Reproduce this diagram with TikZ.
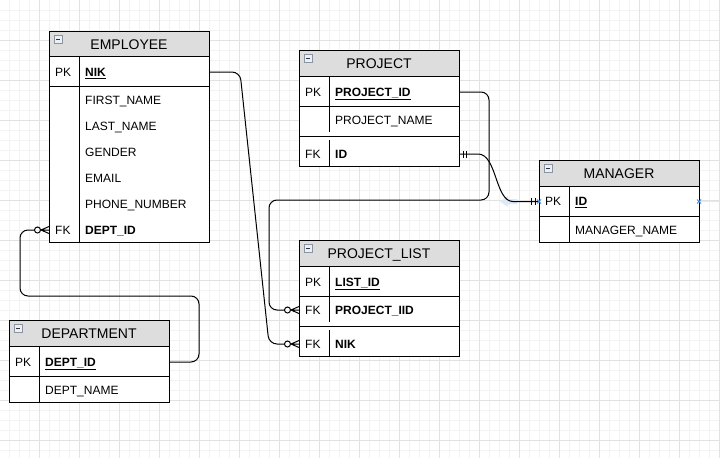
\documentclass[tikz,border=0pt]{standalone}
\usepackage{fontspec}
\setmainfont{Liberation Sans}

\definecolor{headfill}{HTML}{DDDDDD}
\definecolor{minorline}{HTML}{F3F3F3}
\definecolor{majorline}{HTML}{E2E2E2}
\definecolor{hintblue}{HTML}{DCE9F8}
\definecolor{pointblue}{HTML}{3C8DDE}
\definecolor{iconline}{HTML}{8A94A3}
\definecolor{iconfill}{HTML}{EDEFF3}

\tikzset{
  entity/.style={draw, line width=1pt, fill=white},
  header/.style={draw, line width=1pt, fill=headfill},
  rowline/.style={line width=1pt},
  tabletitle/.style={inner sep=0pt, text height=10pt, text depth=0pt, font=\fontsize{14}{16}\selectfont},
  field/.style={anchor=west, text width=118pt, inner xsep=6pt, inner ysep=0pt, text height=8.6pt, text depth=0pt, align=left, font=\fontsize{12}{14}\selectfont},
  keyfield/.style={field, font=\fontsize{12}{14}\selectfont\bfseries},
  keylabel/.style={anchor=west, inner xsep=6pt, inner ysep=0pt, text height=8.6pt, text depth=0pt, font=\fontsize{12}{14}\selectfont},
  link/.style={line width=1pt, rounded corners=8pt},
  zeromany/.pic={
    \draw[line width=1pt] (-8,0) -- (0,3.5) (-8,0) -- (0,0) (-8,0) -- (0,-3.5);
    \draw[line width=1pt] (-11.5,0) circle (3);
  },
  mandone/.pic={
    \draw[line width=1pt] (-4,-3.5) -- (-4,3.5) (-7.5,-3.5) -- (-7.5,3.5);
  },
  minusicon/.pic={
    \draw[iconline, fill=iconfill, line width=0.8pt] (0,0) rectangle (8,8);
    \draw[black!80, line width=1pt] (2,4) -- (6,4);
  }
}

\begin{document}
\begin{tikzpicture}[x=1pt, y=-1pt]
\useasboundingbox (0,0) rectangle (720,458);
\fill[white] (0,0) rectangle (720,458);

% Grid
\foreach \gx in {9,19,...,719} \draw[minorline, line width=1pt] (\gx,0) -- (\gx,458);
\foreach \gy in {10,20,...,450} \draw[minorline, line width=1pt] (0,\gy) -- (720,\gy);
\foreach \gx in {39,79,...,719} \draw[majorline, line width=1pt] (\gx,0) -- (\gx,458);
\foreach \gy in {40,80,...,440} \draw[majorline, line width=1pt] (0,\gy) -- (720,\gy);

% Hover hints
\fill[hintblue] (500,201.5) -- (508,196) -- (508,199) -- (517,199) -- (517,204) -- (508,204) -- (508,207) -- cycle;
\draw[hintblue, line width=1pt] (699,201.5) -- (720,201.5);

% EMPLOYEE
\draw[entity] (49,31) rectangle (209,242);
\draw[header] (49,31) rectangle (209,56);
\pic at (54,35) {minusicon};
\node[tabletitle] (emp-title) at (129,44) {EMPLOYEE};
\draw[rowline] (49,86) -- (209,86);
\draw[rowline] (79,56) -- (79,242);
\node[keylabel] (emp-nik-key) at (49,72) {PK};
\node[keyfield] (emp-nik) at (79,72) {\underline{NIK}};
\foreach \fname [count=\i] in {FIRST\_NAME, LAST\_NAME, GENDER, EMAIL, PHONE\_NUMBER}
  \node[field] (emp-f\i) at (79,74+26*\i) {\fname};
\node[keylabel] (emp-dept-key) at (49,230) {FK};
\node[keyfield] (emp-dept) at (79,230) {DEPT\_ID};

% PROJECT
\draw[entity] (299,50) rectangle (459,166);
\draw[header] (299,50) rectangle (459,76);
\pic at (304,54) {minusicon};
\node[tabletitle] (prj-title) at (379,63.5) {PROJECT};
\draw[rowline] (299,106) -- (459,106);
\draw[rowline] (299,136) -- (459,136);
\draw[rowline] (329,76) -- (329,132) (329,140) -- (329,166);
\node[keylabel] (prj-id-key) at (299,92) {PK};
\node[keyfield] (prj-id) at (329,92) {\underline{PROJECT\_ID}};
\node[field] (prj-name) at (329,120) {PROJECT\_NAME};
\node[keylabel] (prj-fk-key) at (299,154) {FK};
\node[keyfield] (prj-fk) at (329,154) {ID};

% MANAGER
\draw[entity] (539,160) rectangle (699,242);
\draw[header] (539,160) rectangle (699,186);
\pic at (544,164) {minusicon};
\node[tabletitle] (mgr-title) at (619,173.5) {MANAGER};
\draw[rowline] (539,216) -- (699,216);
\draw[rowline] (569,186) -- (569,242);
\node[keylabel] (mgr-id-key) at (539,201.5) {PK};
\node[keyfield] (mgr-id) at (569,201.5) {\underline{ID}};
\node[field] (mgr-name) at (569,230) {MANAGER\_NAME};

% PROJECT_LIST
\draw[entity] (299,240) rectangle (459,356);
\draw[header] (299,240) rectangle (459,266);
\pic at (304,244) {minusicon};
\node[tabletitle] (pl-title) at (379,253.5) {PROJECT\_LIST};
\draw[rowline] (299,296) -- (459,296);
\draw[rowline] (299,326) -- (459,326);
\draw[rowline] (329,266) -- (329,322) (329,330) -- (329,356);
\node[keylabel] (pl-id-key) at (299,282) {PK};
\node[keyfield] (pl-id) at (329,282) {\underline{LIST\_ID}};
\node[keylabel] (pl-iid-key) at (299,310) {FK};
\node[keyfield] (pl-iid) at (329,310) {PROJECT\_IID};
\node[keylabel] (pl-nik-key) at (299,344) {FK};
\node[keyfield] (pl-nik) at (329,344) {NIK};

% DEPARTMENT
\draw[entity] (9,320) rectangle (169,402);
\draw[header] (9,320) rectangle (169,346);
\pic at (14,324) {minusicon};
\node[tabletitle] (dep-title) at (89,333.5) {DEPARTMENT};
\draw[rowline] (9,376) -- (169,376);
\draw[rowline] (39,346) -- (39,402);
\node[keylabel] (dep-id-key) at (9,362) {PK};
\node[keyfield] (dep-id) at (39,362) {\underline{DEPT\_ID}};
\node[field] (dep-name) at (39,390) {DEPT\_NAME};

% Relations
\draw[link, shorten >=14.5pt] (emp-nik.east) -- (240,72) -- (269,344) -- (pl-nik-key.west);
\pic at (pl-nik-key.west) {zeromany};

\draw[link, shorten >=14.5pt] (prj-id.east) -- (489,92) -- (489,200) -- (269,200) -- (269,310) -- (pl-iid-key.west);
\pic at (pl-iid-key.west) {zeromany};

\draw[line width=1pt] (prj-fk.east) -- (478,154) .. controls (497,154) and (495,201.5) .. (513,201.5) -- (mgr-id-key.west);
\pic[rotate=180] at (prj-fk.east) {mandone};
\pic at (mgr-id-key.west) {mandone};

\draw[link, shorten >=14.5pt] (dep-id.east) -- (199,362) -- (199,296) -- (20,296) -- (20,230) -- (emp-dept-key.west);
\pic at (emp-dept-key.west) {zeromany};

% Connection points
\draw[pointblue, line width=0.8pt] (537,199.5) -- (541,203.5) (537,203.5) -- (541,199.5);
\draw[pointblue, line width=0.8pt] (697,199.5) -- (701,203.5) (697,203.5) -- (701,199.5);
\end{tikzpicture}
\end{document}
